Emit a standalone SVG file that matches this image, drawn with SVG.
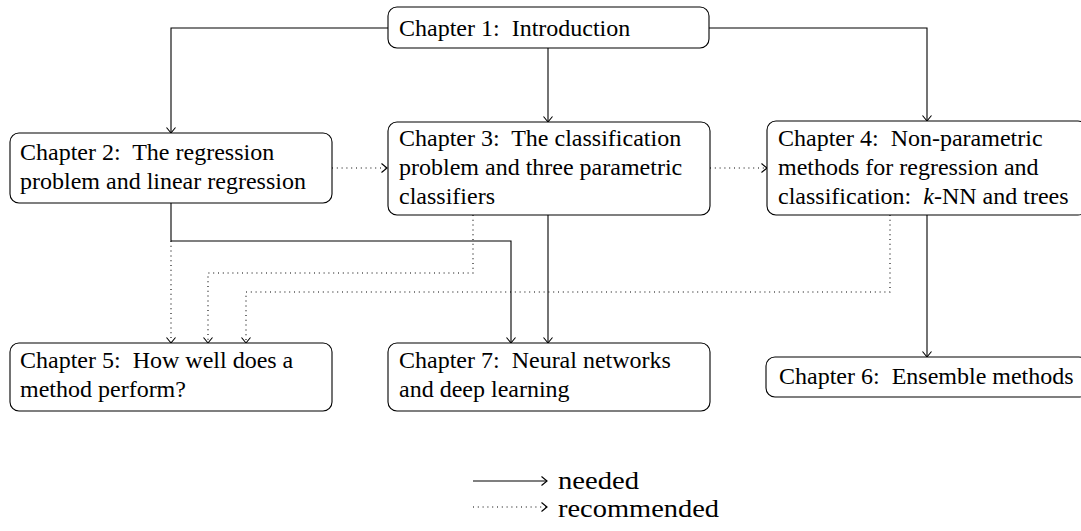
<svg xmlns="http://www.w3.org/2000/svg" width="1081" height="531" viewBox="0 0 1081 531">
<style>
.box{fill:#fff;stroke:#000;stroke-width:1.1}
.t{font-family:"Liberation Serif","Times New Roman",serif;font-size:24px;fill:#000;white-space:pre}
.lg{font-family:"Liberation Serif","Times New Roman",serif;font-size:26px;fill:#000}
.s{fill:none;stroke:#000;stroke-width:1.1;marker-end:url(#ah)}
.d{fill:none;stroke:#000;stroke-width:1.1;stroke-dasharray:1 3.8;marker-end:url(#ah)}
</style>
<defs>
<marker id="ah" markerUnits="userSpaceOnUse" markerWidth="12" markerHeight="12" viewBox="-8 -6 10 12" refX="0" refY="0" orient="auto">
<path d="M-5.5,-4.5 Q-1.5,-1.2 0,0 Q-1.5,1.2 -5.5,4.5" fill="none" stroke="#000" stroke-width="1.1"/>
</marker>
</defs>
<g id="connectors">
<path class="s" d="M388,28 H171 V133"/>
<path class="s" d="M548,48 V122"/>
<path class="s" d="M709,28 H927 V121"/>
<path class="d" d="M332,168 H387"/>
<path class="d" d="M710,168 H767"/>
<path class="s" d="M171,203 V241 H511 V343"/>
<path class="s" d="M548,215 V343"/>
<path class="d" d="M171,241 V343"/>
<path class="d" d="M473,215 V273 H208 V343"/>
<path class="d" d="M890,215 V292 H246 V343"/>
<path class="s" d="M927,215 V357"/>
</g>
<g id="ch1">
<rect class="box" x="388" y="7" width="321" height="41" rx="9"/>
<text class="t" x="399" y="36">Chapter 1:  Introduction</text>
</g>
<g id="ch2">
<rect class="box" x="10" y="133" width="322" height="70" rx="9"/>
<text class="t" x="20" y="160">Chapter 2:  The regression</text>
<text class="t" x="20" y="189">problem and linear regression</text>
</g>
<g id="ch3">
<rect class="box" x="388" y="122" width="322" height="93" rx="9"/>
<text class="t" x="399" y="146">Chapter 3:  The classification</text>
<text class="t" x="399" y="175">problem and three parametric</text>
<text class="t" x="399" y="204">classifiers</text>
</g>
<g id="ch4">
<rect class="box" x="767" y="121" width="320" height="94" rx="9"/>
<text class="t" x="778" y="146">Chapter 4:  Non-parametric</text>
<text class="t" x="778" y="175">methods for regression and</text>
<text class="t" x="778" y="204">classification:  <tspan font-style="italic">k</tspan>-NN and trees</text>
</g>
<g id="ch5">
<rect class="box" x="10" y="343" width="322" height="68" rx="9"/>
<text class="t" x="20" y="368">Chapter 5:  How well does a</text>
<text class="t" x="20" y="397">method perform?</text>
</g>
<g id="ch7">
<rect class="box" x="388" y="343" width="322" height="68" rx="9"/>
<text class="t" x="399" y="368">Chapter 7:  Neural networks</text>
<text class="t" x="399" y="397">and deep learning</text>
</g>
<g id="ch6">
<rect class="box" x="766" y="357" width="322" height="40" rx="9"/>
<text class="t" x="779" y="384">Chapter 6:  Ensemble methods</text>
</g>
<g id="legend">
<path class="s" d="M473,481 H547"/>
<path class="d" d="M473,507 H547"/>
<text class="lg" x="558" y="489" textLength="81" lengthAdjust="spacingAndGlyphs">needed</text>
<text class="lg" x="558" y="517" textLength="161" lengthAdjust="spacingAndGlyphs">recommended</text>
</g>
</svg>
